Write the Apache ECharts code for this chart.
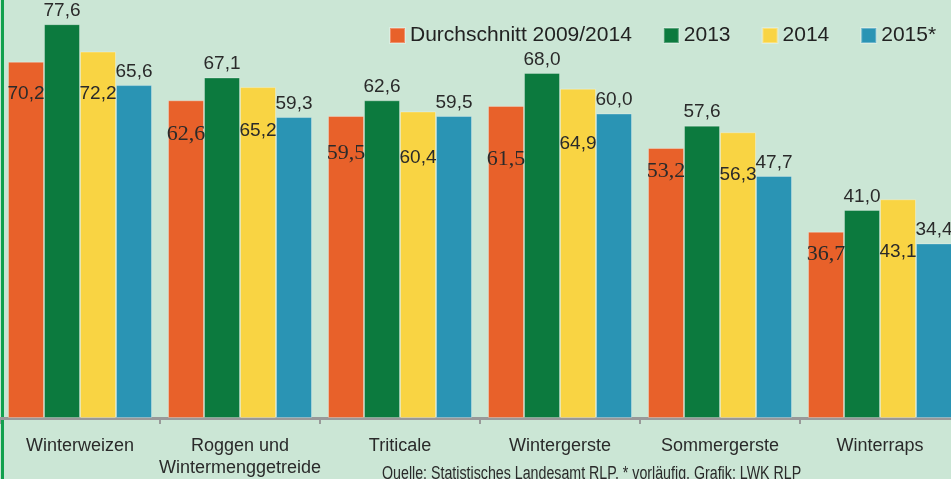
<!DOCTYPE html>
<html>
<head>
<meta charset="utf-8">
<script src="https://cdn.jsdelivr.net/npm/echarts@6/dist/echarts.min.js"></script>
<style>
  html, body { margin: 0; padding: 0; background: #cbe6d5; }
  #chart { width: 951px; height: 479px; }
</style>
</head>
<body>
<div id="chart"></div>
<script>
const categories = ["Winterweizen", "Roggen und\nWintermenggetreide", "Triticale", "Wintergerste", "Sommergerste", "Winterraps"];
const seriesNames = ["Durchschnitt 2009/2014", "2013", "2014", "2015*"];
const avg0914 = [70.2, 62.6, 59.5, 61.5, 53.2, 36.7];
const y2013 = [77.6, 67.1, 62.6, 68.0, 57.6, 41.0];
const y2014 = [72.2, 65.2, 60.4, 64.9, 56.3, 43.1];
const y2015 = [65.6, 59.3, 59.5, 60.0, 47.7, 34.4];

// where the labels of the orange and yellow bars sit (px below the bar top)
const avgLabelDrop = [23, 23, 26, 42, 12, 11];
const y2014LabelDrop = [33, 34, 37, 46, 33, 43];

const colors = ["#e8612a", "#0c7a3e", "#f9d443", "#2a94b4"];
const font = "'Liberation Sans', sans-serif";
const serif = "'Liberation Serif', serif";

const chart = echarts.init(document.getElementById("chart"));

const fmt = p => p.value.toFixed(1).replace(".", ",");

const insideItems = (values, drops) =>
  values.map((v, i) => ({ value: v, label: { offset: [0, drops[i]] } }));

// the orange labels are set in a serif face in the original, except the first one
const avgItems = insideItems(avg0914, avgLabelDrop);
avgItems.forEach((d, i) => {
  if (i === 0) {
    d.label.fontFamily = font;
    d.label.fontSize = 19;
  } else {
    d.label.fontFamily = serif;
  }
});

const baseLabel = {
  show: true,
  formatter: fmt,
  fontSize: 19,
  color: "#2a2a2a",
  fontFamily: font,
};

const option = {
  backgroundColor: "#cbe6d5",
  animation: false,
  legend: {
    left: 384,
    top: 20,
    icon: "rect",
    itemWidth: 15,
    itemHeight: 15,
    itemGap: 31,
    textStyle: { fontSize: 21, color: "#222", fontFamily: font },
    data: seriesNames,
  },
  grid: { left: 0, right: -9, top: 12, height: 406, outerBoundsMode: "none", containLabel: false },
  xAxis: {
    type: "category",
    data: categories,
    axisLine: { lineStyle: { color: "#999", width: 3 } },
    axisTick: { show: true, length: 6, lineStyle: { color: "#999", width: 2 } },
    axisLabel: {
      fontSize: 18,
      lineHeight: 22,
      margin: 17,
      color: "#2a2a2a",
      fontFamily: font,
      interval: 0,
    },
  },
  yAxis: { type: "value", min: 0, max: 80, show: false, splitLine: { show: false } },
  graphic: [
    { type: "rect", left: 1, top: 0, shape: { width: 3, height: 479 }, style: { fill: "#12a04d" } },
    {
      type: "text",
      x: 382,
      y: 465,
      scaleX: 0.79,
      style: {
        text: "Quelle: Statistisches Landesamt RLP, * vorläufig, Grafik: LWK RLP",
        fontSize: 18,
        fill: "#2a2a2a",
        fontFamily: font,
      },
    },
  ],
  series: [
    {
      name: seriesNames[0],
      type: "bar",
      data: avgItems,
      label: { ...baseLabel, fontSize: 22, position: "insideTop", distance: 0 },
    },
    {
      name: seriesNames[1],
      type: "bar",
      data: y2013,
      label: { ...baseLabel, position: "top", distance: 4 },
    },
    {
      name: seriesNames[2],
      type: "bar",
      data: insideItems(y2014, y2014LabelDrop),
      label: { ...baseLabel, position: "insideTop", distance: 0 },
    },
    {
      name: seriesNames[3],
      type: "bar",
      data: y2015,
      label: { ...baseLabel, position: "top", distance: 4 },
    },
  ].map((s, i) => ({
    ...s,
    barWidth: 36,
    barGap: "0%",
    itemStyle: { color: colors[i], borderColor: "rgba(255,255,255,0.3)", borderWidth: 1 },
  })),
};

chart.setOption(option);
</script>
</body>
</html>
